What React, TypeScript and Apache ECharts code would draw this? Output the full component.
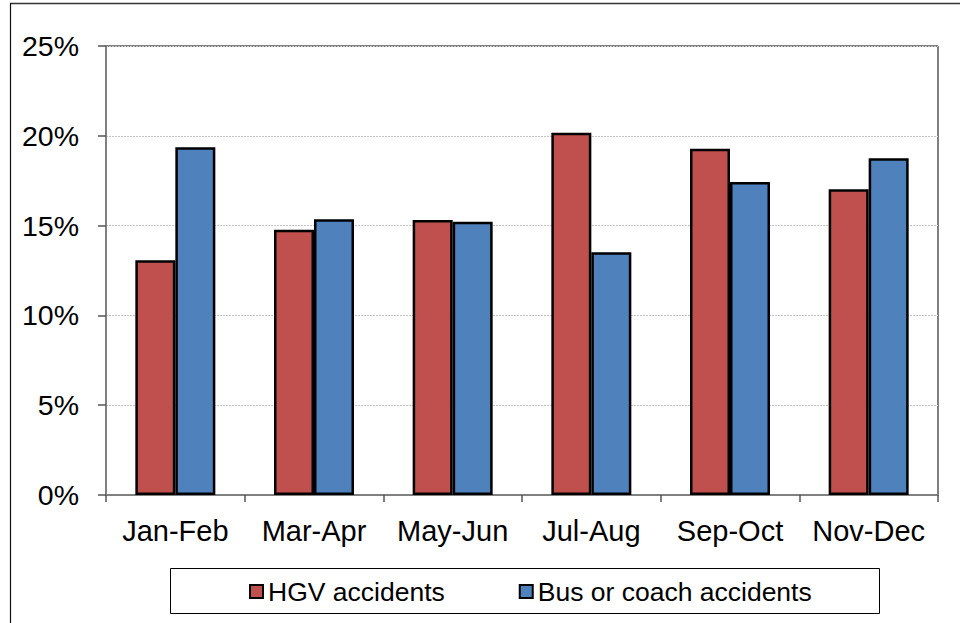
import React, { useEffect, useRef } from "react";
import * as echarts from "echarts";

const categories = ["Jan-Feb", "Mar-Apr", "May-Jun", "Jul-Aug", "Sep-Oct", "Nov-Dec"];
const hgvValues = [13.07, 14.77, 15.31, 20.17, 19.28, 17.02];
const busValues = [19.36, 15.35, 15.22, 13.51, 17.43, 18.75];
const seriesNames = ["HGV accidents", "Bus or coach accidents"];
const yTicks = { min: 0, max: 25, interval: 5 };

export default function App() {
  const ref = useRef<HTMLDivElement>(null);
  useEffect(() => {
    if (!ref.current) return;
    const chart = echarts.init(ref.current, null, { renderer: "svg" });
    const font = "Liberation Sans, Arial, sans-serif";
    chart.setOption({
      animation: false,
      backgroundColor: "#ffffff",
      grid: { left: 106, top: 46, right: 22, bottom: 128, containLabel: false, show: false },
      xAxis: {
        type: "category",
        data: categories,
        axisLine: { show: true, lineStyle: { color: "#808080", width: 2 } },
        axisTick: { show: true, length: 7, lineStyle: { color: "#555", width: 1.5 } },
        axisLabel: { color: "#000", fontSize: 29, fontFamily: font, margin: 21, interval: 0, hideOverlap: false },
        splitLine: { show: false },
      },
      yAxis: {
        type: "value",
        min: yTicks.min,
        max: yTicks.max,
        interval: yTicks.interval,
        axisLine: { show: true, lineStyle: { color: "#808080", width: 2 } },
        axisTick: { show: true, length: 8, lineStyle: { color: "#555", width: 1.5 } },
        axisLabel: { color: "#000", fontSize: 28.5, fontFamily: font, margin: 27, formatter: "{value}%" },
        splitLine: { show: true, lineStyle: { color: "#c4c4c4", type: [2, 1], width: 1 } },
      },
      legend: {
        data: seriesNames,
        left: 244,
        top: 573,
        itemWidth: 13,
        itemHeight: 13,
        itemGap: 74,
        icon: "rect",
        itemStyle: { borderColor: "#000", borderWidth: 2 },
        textStyle: { color: "#000", fontSize: 26.5, fontFamily: font },
      },
      graphic: [
        { type: "line", shape: { x1: 106, y1: 46, x2: 938, y2: 46 }, style: { stroke: "#808080", lineWidth: 2 }, z: 0 },
        { type: "line", shape: { x1: 938, y1: 46, x2: 938, y2: 495 }, style: { stroke: "#808080", lineWidth: 2 }, z: 0 },
        { type: "line", shape: { x1: 10, y1: 3.5, x2: 960, y2: 3.5 }, style: { stroke: "#333", lineWidth: 1.5 } },
        { type: "line", shape: { x1: 10.5, y1: 3, x2: 10.5, y2: 623 }, style: { stroke: "#111", lineWidth: 1.2 } },
        { type: "rect", shape: { x: 170.5, y: 568.5, width: 709, height: 45 }, style: { fill: "none", stroke: "#000", lineWidth: 1 } },
      ],
      series: [
        {
          name: seriesNames[0],
          type: "bar",
          data: hgvValues,
          barWidth: 40,
          barGap: "0%",
          itemStyle: { color: "#C0504D", borderColor: "#000", borderWidth: 2.5 },
        },
        {
          name: seriesNames[1],
          type: "bar",
          data: busValues,
          barWidth: 40,
          barGap: "0%",
          itemStyle: { color: "#4F81BD", borderColor: "#000", borderWidth: 2.5 },
        },
      ],
    });
    return () => chart.dispose();
  }, []);
  return <div ref={ref} style={{ width: 960, height: 623, position: "absolute", left: 0, top: 0 }} />;
}
